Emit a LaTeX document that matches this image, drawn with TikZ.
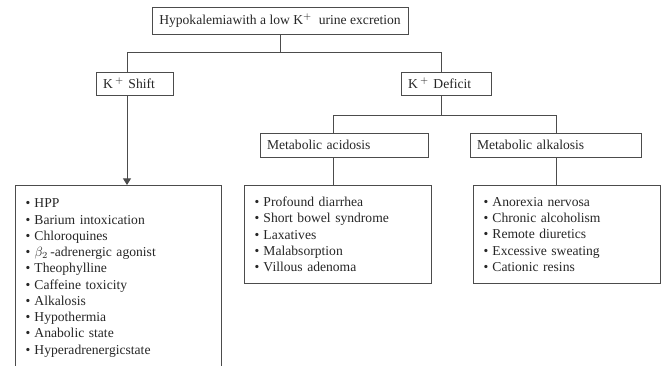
\documentclass[tikz,border=0pt]{standalone}
\usepackage{fontspec}
\setmainfont{Liberation Serif}
\usetikzlibrary{arrows.meta}
\newcommand{\itm}[1]{\makebox[6.75pt][l]{\textbullet}#1}
\newcommand{\kp}{K\,$^{+}$}

\begin{document}
\begin{tikzpicture}[x=0.75pt,y=-0.75pt,
   every node/.style={text=black!85,font=\fontsize{10.2}{12.2}\selectfont},
   box/.style={rectangle,draw=black!70,line width=0.75pt,inner ysep=0pt},
   lbox/.style={box,align=left,inner xsep=5.25pt},
   listbox/.style={box,align=left,anchor=north west,inner xsep=7.5pt},
   link/.style={draw=black!70,line width=0.75pt}]
 \useasboundingbox (0,0) rectangle (667,365);
 \clip (0,0) rectangle (667,365);

 \draw (280,20.5) node[box,minimum width=192pt,minimum height=20.25pt] (top)
              {Hypokalemiawith a low K$^{+}$\ \ urine excretion};

 \draw (134.5,83.5) node[lbox,text width=47.25pt,minimum height=17.25pt] (shift)
              {\kp\ Shift};
 \draw (446,83.5)   node[lbox,text width=57pt,minimum height=17.25pt] (deficit)
              {\kp\ Deficit};

 \draw (344,145)    node[lbox,text width=115.5pt,minimum height=18pt] (acid)
              {Metabolic acidosis};
 \draw (555.5,145)  node[lbox,text width=117.75pt,minimum height=18pt] (alk)
              {Metabolic alkalosis};

 \draw (15,185)  node[listbox,text width=139.5pt,inner ysep=10pt] (shiftlist)
              {\itm{HPP}\\
               \itm{Barium intoxication}\\
               \itm{Chloroquines}\\
               \itm{$\beta_2$\,-adrenergic agonist}\\
               \itm{Theophylline}\\
               \itm{Caffeine toxicity}\\
               \itm{Alkalosis}\\
               \itm{Hypothermia}\\
               \itm{Anabolic state}\\
               \itm{Hyperadrenergicstate}\\
               ~};
 \draw (244,185) node[listbox,text width=125.25pt,minimum height=73.5pt] (acidlist)
              {\itm{Profound diarrhea}\\
               \itm{Short bowel syndrome}\\
               \itm{Laxatives}\\
               \itm{Malabsorption}\\
               \itm{Villous adenoma}};
 \draw (473,185) node[listbox,text width=125.25pt,minimum height=73.5pt] (alklist)
              {\itm{Anorexia nervosa}\\
               \itm{Chronic alcoholism}\\
               \itm{Remote diuretics}\\
               \itm{Excessive sweating}\\
               \itm{Cationic resins}};

 % branch points
 \coordinate (j0) at (280,52.5);
 \coordinate (jl) at (127,52.5);
 \coordinate (jr) at (441,52.5);
 \coordinate (k0) at (441,115);
 \coordinate (kl) at (333,115);
 \coordinate (kr) at (556,115);

 \draw[link] (top.south -| j0) -- (j0);
 \draw[link] (shift.north -| jl) -- (jl) -- (jr) -- (deficit.north -| jr);
 \draw[link] (deficit.south -| k0) -- (k0);
 \draw[link] (acid.north -| kl) -- (kl) -- (kr) -- (alk.north -| kr);
 \draw[link,-{Triangle[length=5pt,width=6pt]}] (shift.south -| jl) -- (shiftlist.north -| jl);
 \draw[link] (acid.south -| kl) -- (acidlist.north -| kl);
 \draw[link] (alk.south -| kr) -- (alklist.north -| kr);

\end{tikzpicture}
\end{document}
